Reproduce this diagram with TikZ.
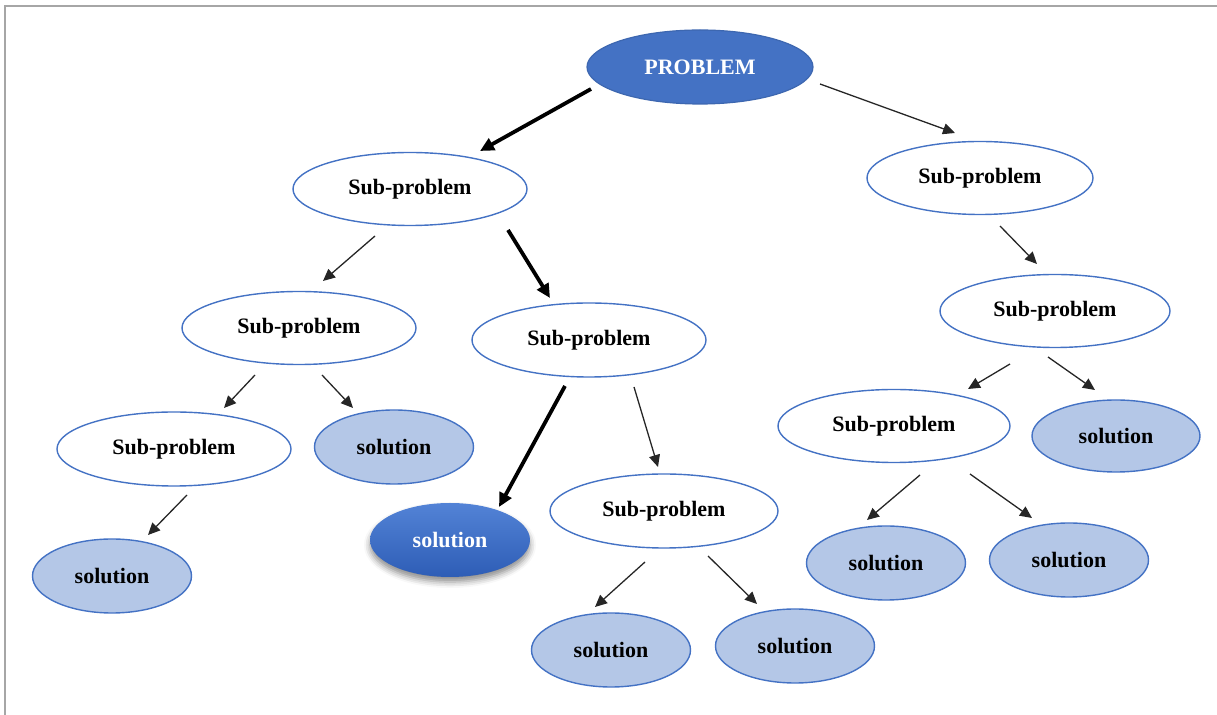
\documentclass[tikz,border=0pt]{standalone}
\usepackage{fontspec}
\setmainfont{Liberation Serif}
\usetikzlibrary{shapes.geometric,arrows.meta,shadows.blur}
\definecolor{mainblue}{HTML}{4472C4}
\definecolor{lightblue}{HTML}{B4C7E7}
\definecolor{framegray}{HTML}{A6A6A6}
\definecolor{darktop}{HTML}{5383D6}
\definecolor{darkbot}{HTML}{2E5DB6}
\tikzset{
  base/.style={ellipse,inner sep=0pt,font=\fontsize{11}{13}\selectfont\bfseries},
  subbox/.style={base,draw=mainblue,line width=0.7pt,fill=white,minimum width=117pt,minimum height=36.5pt},
  solbox/.style={base,draw=mainblue,line width=0.7pt,fill=lightblue,minimum width=79.5pt,minimum height=37pt},
  probbox/.style={base,draw=mainblue!90!black,line width=0.6pt,fill=mainblue,text=white,minimum width=113pt,minimum height=37pt},
  darksol/.style={base,top color=darktop,bottom color=darkbot,draw=none,text=white,minimum width=80pt,minimum height=37pt,
     blur shadow={shadow xshift=0pt,shadow yshift=-2.5pt,shadow blur radius=3pt,shadow opacity=45}},
  thinarrow/.style={line width=0.65pt,draw=black!85,-{Triangle[length=6pt,width=5.5pt]}},
  thickarrow/.style={line width=1.9pt,draw=black,-{Triangle[length=7pt,width=6.5pt]}},
}
\begin{document}
\begin{tikzpicture}[x=0.5pt,y=-0.5pt]
\useasboundingbox (0,0) rectangle (1217,715);
\draw[framegray,line width=0.8pt] (5,715) -- (5,6) -- (1217,6);

% nodes
\node[probbox] (P) at (700,67) {PROBLEM};
\node[subbox] (L1) at (410,189) {Sub-problem};
\node[subbox,minimum width=113pt] (R1) at (980,178) {Sub-problem};
\node[subbox] (L2a) at (299,328) {Sub-problem};
\node[subbox,minimum height=37pt] (L2b) at (589,340) {Sub-problem};
\node[subbox,minimum width=115pt] (R2) at (1055,311) {Sub-problem};
\node[subbox,minimum height=37pt] (L3a) at (174,449) {Sub-problem};
\node[solbox] (L3b) at (394,447) {solution};
\node[darksol] (DS) at (450,540) {solution};
\node[subbox,minimum width=114pt,minimum height=37pt] (M3) at (664,511) {Sub-problem};
\node[subbox,minimum width=116pt] (R3) at (894,426) {Sub-problem};
\node[solbox,minimum width=84pt,minimum height=36pt] (RS1) at (1116,436) {solution};
\node[solbox] (L4) at (112,576) {solution};
\node[solbox] (MS1) at (611,650) {solution};
\node[solbox] (MS2) at (795,646) {solution};
\node[solbox] (RS2) at (886,563) {solution};
\node[solbox] (RS3) at (1069,560) {solution};

% connector end points
\coordinate (a1s) at (591,89);   \coordinate (a1e) at (480,151);
\coordinate (a2s) at (820,84);   \coordinate (a2e) at (955,133);
\coordinate (a3s) at (375,236);  \coordinate (a3e) at (323,281);
\coordinate (a4s) at (508,230);  \coordinate (a4e) at (550,298);
\coordinate (a5s) at (255,375);  \coordinate (a5e) at (224,408);
\coordinate (a6s) at (322,375);  \coordinate (a6e) at (353,408);
\coordinate (a7s) at (187,495);  \coordinate (a7e) at (148,535);
\coordinate (a8s) at (565,386);  \coordinate (a8e) at (499,507);
\coordinate (a9s) at (634,387);  \coordinate (a9e) at (658,467);
\coordinate (a10s) at (645,562); \coordinate (a10e) at (595,607);
\coordinate (a11s) at (708,556); \coordinate (a11e) at (757,604);
\coordinate (a12s) at (1000,226);\coordinate (a12e) at (1037,264);
\coordinate (a13s) at (1010,364);\coordinate (a13e) at (968,389);
\coordinate (a14s) at (1048,357);\coordinate (a14e) at (1095,390);
\coordinate (a15s) at (920,475); \coordinate (a15e) at (867,520);
\coordinate (a16s) at (970,474); \coordinate (a16e) at (1032,518);

\draw[thickarrow] (a1s) -- (a1e);
\draw[thinarrow] (a2s) -- (a2e);
\draw[thinarrow] (a3s) -- (a3e);
\draw[thickarrow] (a4s) -- (a4e);
\draw[thinarrow] (a5s) -- (a5e);
\draw[thinarrow] (a6s) -- (a6e);
\draw[thinarrow] (a7s) -- (a7e);
\draw[thickarrow] (a8s) -- (a8e);
\draw[thinarrow] (a9s) -- (a9e);
\draw[thinarrow] (a10s) -- (a10e);
\draw[thinarrow] (a11s) -- (a11e);
\draw[thinarrow] (a12s) -- (a12e);
\draw[thinarrow] (a13s) -- (a13e);
\draw[thinarrow] (a14s) -- (a14e);
\draw[thinarrow] (a15s) -- (a15e);
\draw[thinarrow] (a16s) -- (a16e);
\end{tikzpicture}
\end{document}
